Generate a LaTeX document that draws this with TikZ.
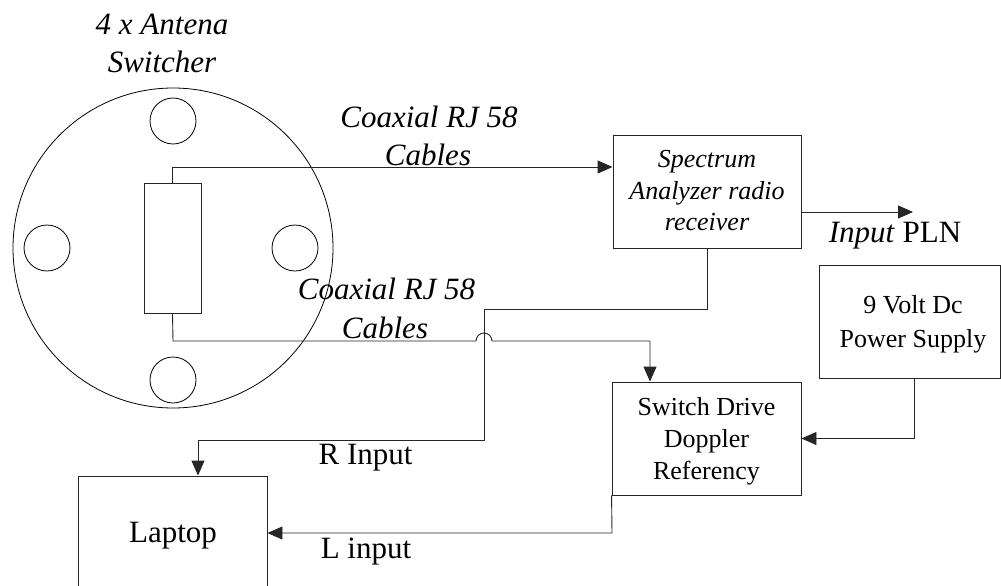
\documentclass[tikz,border=0pt]{standalone}
\usepackage{fontspec}
\setmainfont{Liberation Serif}
\usetikzlibrary{arrows.meta}
\begin{document}
\begin{tikzpicture}[x=1pt,y=-1pt,
  wire/.style={draw=black!85,line width=0.9pt},
  arr/.style={wire,-{Triangle[length=15pt,width=13pt]}},
  boxn/.style={draw=black!85,line width=0.9pt,rectangle,inner sep=0pt},
  ring/.style={draw=black,line width=0.8pt,circle,inner sep=0pt},
  big/.style={font=\fontsize{31}{37}\selectfont,anchor=base,inner sep=0pt},
  bigit/.style={big,font=\fontsize{31}{37}\selectfont\itshape},
  small/.style={font=\fontsize{26}{32}\selectfont,anchor=base,inner sep=0pt},
  smallit/.style={small,font=\fontsize{26}{32}\selectfont\itshape}]
\useasboundingbox (0,0) rectangle (1001,586);
% antenna switcher
\node[ring,minimum size=320pt] (disc) at (173,248) {};
\node[ring,minimum size=46pt] (antT) at (173,121) {};
\node[ring,minimum size=46pt] (antL) at (47,248) {};
\node[ring,minimum size=46pt] (antR) at (295,248) {};
\node[ring,minimum size=46pt] (antB) at (173,380) {};
\node[boxn,minimum width=57pt,minimum height=130pt] (sw) at (172.5,248) {};
% boxes
\node[boxn,minimum width=188pt,minimum height=113pt] (spec) at (707,191.5) {};
\node[boxn,minimum width=189pt,minimum height=113pt] (drv) at (706.5,438.5) {};
\node[boxn,minimum width=181pt,minimum height=113pt] (pwr) at (909.5,321.5) {};
\node[boxn,minimum width=189pt,minimum height=114pt] (lap) at (172.5,533) {};
% texts
\node[bigit] (t1) at (162,35) {4 x Antena};
\node[bigit] (t2) at (162,73) {Switcher};
\node[bigit] (c1) at (429,127) {Coaxial RJ 58};
\node[bigit] (c2) at (428,165) {Cables};
\node[bigit] (c3) at (386.5,299) {Coaxial RJ 58};
\node[bigit] (c4) at (385,338) {Cables};
\node[big] (pln) at (895,242) {\textit{Input} PLN};
\node[smallit] (s1) at (707,167) {Spectrum};
\node[smallit] (s2) at (707,199) {Analyzer radio};
\node[smallit] (s3) at (707,230) {receiver};
\node[small] (d1) at (706.5,415) {Switch Drive};
\node[small] (d2) at (706.5,447) {Doppler};
\node[small] (d3) at (706.5,479) {Referency};
\node[small] (p1) at (913,313) {9 Volt Dc};
\node[small] (p2) at (913,347) {Power Supply};
\node[big] (rin) at (365.5,464) {R Input};
\node[big] (lin) at (366,558) {L input};
\node[big] (lt) at (173,542) {Laptop};
% connectors
\coordinate (plnend) at (913,212);
\draw[arr] (sw.north) |- (spec.west |- 0,167);
\draw[arr] (sw.south) -- (173,341) -- (476,341) arc (180:360:8) -- (650,341) -- (drv.north -| 650,0);
\draw[arr] (spec.south) -- (707,309) -- (484,309) -- (484,440) -- (198,440) -- (lap.north -| 198,0);
\draw[arr] (spec.east |- 0,212) -- (plnend);
\draw[arr] (pwr.south -| 914,0) -- (914,438.5) -- (drv.east);
\draw[arr] (drv.south west) -- (612,533) -- (lap.east);
\end{tikzpicture}
\end{document}
